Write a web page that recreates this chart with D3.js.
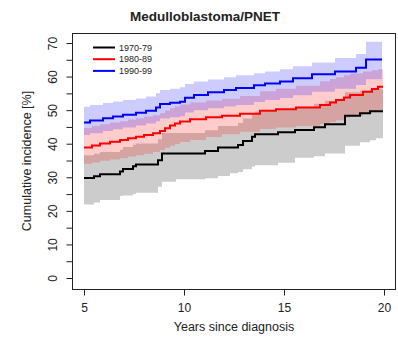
<!DOCTYPE html>
<head>
<meta charset="utf-8">
<script src="https://cdn.jsdelivr.net/npm/d3@7"></script>
<style>
body { margin: 0; background: #fff; }
text { font-family: "Liberation Sans", Arial, sans-serif; }
</style>
</head>
<svg width="398" height="338"></svg>

<script>
    // years since diagnosis at which each estimate steps, then estimate and CI bounds (%)
    var t7079   = [5.0, 5.5, 5.8, 6.8, 6.95, 7.45, 7.6, 8.7, 8.9, 9.6, 11.05, 11.7, 12.3, 12.7, 12.95, 13.4, 13.55, 14.7, 15.55, 16.5, 17.05, 18.05, 18.8, 19.3, 19.6, 19.95];
    var est7079 = [29.8, 30.3, 30.9, 31.7, 32.5, 33.3, 33.8, 35.1, 37.1, 37.1, 37.8, 38.9, 38.9, 39.6, 40.8, 42.1, 42.8, 43.4, 44.1, 44.9, 45.8, 48.3, 49.1, 49.7, 49.7, 49.7];
    var lo7079  = [21.9, 22.5, 23.2, 24.4, 24.6, 25.0, 25.4, 27.2, 28.7, 29.4, 29.7, 30.4, 31.2, 31.6, 32.4, 33.2, 33.6, 34.3, 35.8, 36.3, 37.1, 39.4, 40.4, 41.0, 41.6, 41.6];
    var hi7079  = [36.6, 37.0, 37.5, 38.2, 39.0, 39.7, 40.1, 41.3, 43.2, 43.2, 44.0, 45.3, 45.3, 46.2, 47.5, 48.8, 49.5, 50.2, 51.0, 51.9, 52.8, 55.3, 55.8, 56.2, 56.2, 56.2];

    var t8089   = [5.0, 5.4, 5.8, 6.3, 6.8, 7.2, 7.6, 8.0, 8.45, 8.8, 9.05, 9.3, 9.55, 9.8, 10.3, 11.1, 11.9, 12.8, 13.8, 14.6, 15.6, 16.8, 17.3, 17.6, 18.0, 18.3, 18.95, 19.4, 19.7, 19.95];
    var est8089 = [38.9, 39.5, 40.1, 40.6, 41.1, 41.6, 42.1, 42.6, 43.1, 43.8, 44.6, 45.4, 46.0, 46.6, 47.3, 47.9, 48.3, 48.9, 49.8, 50.3, 50.8, 51.5, 52.3, 53.0, 53.8, 54.5, 55.5, 56.3, 57.0, 57.0];
    var lo8089  = [34.0, 34.4, 34.9, 35.3, 35.7, 36.2, 36.6, 37.0, 37.5, 38.1, 38.8, 39.4, 39.9, 40.5, 41.1, 42.0, 42.8, 43.6, 44.4, 44.8, 45.3, 45.9, 46.5, 47.0, 47.7, 48.2, 49.0, 49.5, 50.0, 50.0];
    var hi8089  = [44.7, 45.3, 45.8, 46.3, 46.7, 47.2, 47.6, 48.1, 48.5, 49.1, 49.9, 50.6, 51.1, 51.7, 52.3, 52.9, 53.4, 54.2, 55.6, 56.4, 57.3, 58.6, 59.3, 59.8, 60.4, 60.9, 61.5, 61.9, 62.2, 62.2];

    var t9099   = [5.0, 5.3, 5.95, 6.45, 6.95, 7.6, 8.1, 8.6, 8.8, 9.3, 9.8, 10.05, 10.5, 11.2, 12.0, 12.6, 13.5, 14.05, 14.8, 15.45, 16.4, 17.55, 18.6, 19.1, 19.9];
    var est9099 = [46.3, 46.9, 47.6, 48.1, 48.6, 49.2, 49.8, 50.8, 51.8, 52.2, 52.5, 53.7, 54.5, 55.3, 56.0, 56.6, 57.4, 57.9, 58.5, 59.5, 60.7, 61.5, 62.6, 65.1, 65.1];
    var lo9099  = [42.6, 43.1, 43.8, 44.3, 44.8, 45.4, 46.0, 46.7, 47.5, 47.9, 48.2, 49.3, 50.0, 50.6, 51.1, 51.5, 52.4, 53.0, 53.6, 54.4, 55.5, 56.4, 57.5, 59.2, 59.2];
    var hi9099  = [51.0, 51.5, 52.1, 52.6, 53.0, 53.5, 54.1, 55.0, 56.0, 56.4, 56.8, 57.8, 58.5, 59.1, 59.8, 60.4, 61.0, 61.5, 62.2, 63.1, 64.2, 65.5, 66.7, 70.4, 70.4];

    var periods = ["1970-79", "1980-89", "1990-99"];
    var xTicks = [5, 10, 15, 20];
    var yTicks = [0, 5, 10, 15, 20, 25, 30, 35, 40, 45, 50, 55, 60, 65, 70];

    var series = [
        {name: periods[0], t: t7079, est: est7079, lo: lo7079, hi: hi7079, line: "#000000", band: "rgba(0,0,0,0.2)"},
        {name: periods[1], t: t8089, est: est8089, lo: lo8089, hi: hi8089, line: "#ff0000", band: "rgba(255,0,0,0.2)"},
        {name: periods[2], t: t9099, est: est9099, lo: lo9099, hi: hi9099, line: "#0000ff", band: "rgba(0,0,255,0.2)"}
    ];

    var svg = d3.select("svg"),
        box = {left: 72, top: 33, right: 395, bottom: 289};

    var x = d3.scaleLinear().domain([5, 20]).range([84, 384]);
    var y = d3.scaleLinear().domain([0, 70]).range([278, 43]);

    function rows(s) {
        return s.t.map(function(t, i) { return {t: t, est: s.est[i], lo: s.lo[i], hi: s.hi[i]}; });
    }

    var area = d3.area()
        .curve(d3.curveStepAfter)
        .x(function(d) { return x(d.t); })
        .y0(function(d) { return y(d.lo); })
        .y1(function(d) { return y(d.hi); });

    var line = d3.line()
        .curve(d3.curveStepAfter)
        .x(function(d) { return x(d.t); })
        .y(function(d) { return y(d.est); });

    // bands first, then the lines on top
    svg.append("g").selectAll("path")
        .data(series)
        .enter().append("path")
        .attr("d", function(s) { return area(rows(s)); })
        .attr("fill", function(s) { return s.band; })
        .attr("stroke", "none");

    svg.append("g").selectAll("path")
        .data(series)
        .enter().append("path")
        .attr("d", function(s) { return line(rows(s)); })
        .attr("fill", "none")
        .attr("stroke", function(s) { return s.line; })
        .attr("stroke-width", 2);

    // frame
    svg.append("rect")
        .attr("x", box.left + 0.5)
        .attr("y", box.top + 0.5)
        .attr("width", box.right - box.left)
        .attr("height", box.bottom - box.top)
        .attr("fill", "none")
        .attr("stroke", "#222")
        .attr("stroke-width", 1);

    // x axis
    var xa = svg.append("g")
        .attr("transform", "translate(0," + (box.bottom + 0.5) + ")")
        .call(d3.axisBottom(x).tickValues(xTicks).tickSize(6).tickPadding(8));
    xa.select(".domain").remove();
    xa.selectAll("line").attr("stroke", "#222");
    xa.selectAll("text").attr("font-size", 12).attr("fill", "#222")
        .style("font-family", "'Liberation Sans', Arial, sans-serif");

    // y axis, labels only every 10 like the original
    var ya = svg.append("g")
        .attr("transform", "translate(" + (box.left + 0.5) + ",0)")
        .call(d3.axisLeft(y).tickValues(yTicks).tickSize(6)
            .tickFormat(function(d) { return d % 10 === 0 ? d : ""; }));
    ya.select(".domain").remove();
    ya.selectAll("line").attr("stroke", "#222");
    ya.selectAll("text")
        .attr("font-size", 12).attr("fill", "#222")
        .style("font-family", "'Liberation Sans', Arial, sans-serif")
        .attr("x", 0).attr("dy", 0)
        .attr("text-anchor", "middle")
        .attr("transform", "translate(-20,0) rotate(-90)")
        .attr("y", 4);

    // titles
    svg.append("text")
        .attr("x", 205).attr("y", 21)
        .attr("text-anchor", "middle")
        .attr("font-size", 13.5).attr("font-weight", "bold")
        .attr("fill", "#222")
        .text("Medulloblastoma/PNET");

    svg.append("text")
        .attr("x", x(12.5)).attr("y", 331)
        .attr("text-anchor", "middle")
        .attr("font-size", 12.5).attr("fill", "#222")
        .text("Years since diagnosis");

    svg.append("text")
        .attr("transform", "translate(31," + ((box.top + box.bottom) / 2) + ") rotate(-90)")
        .attr("text-anchor", "middle")
        .attr("font-size", 12.5).attr("fill", "#222")
        .text("Cumulative incidence [%]");

    // legend
    var legend = svg.append("g").selectAll("g")
        .data(series)
        .enter().append("g")
        .attr("transform", function(d, i) { return "translate(0," + (47.5 + i * 11.7) + ")"; });

    legend.append("line")
        .attr("x1", 93).attr("x2", 115)
        .attr("stroke", function(d) { return d.line; })
        .attr("stroke-width", 2);

    legend.append("text")
        .attr("x", 119).attr("y", 3)
        .attr("font-size", 9).attr("fill", "#222")
        .text(function(d) { return d.name; });
</script>
